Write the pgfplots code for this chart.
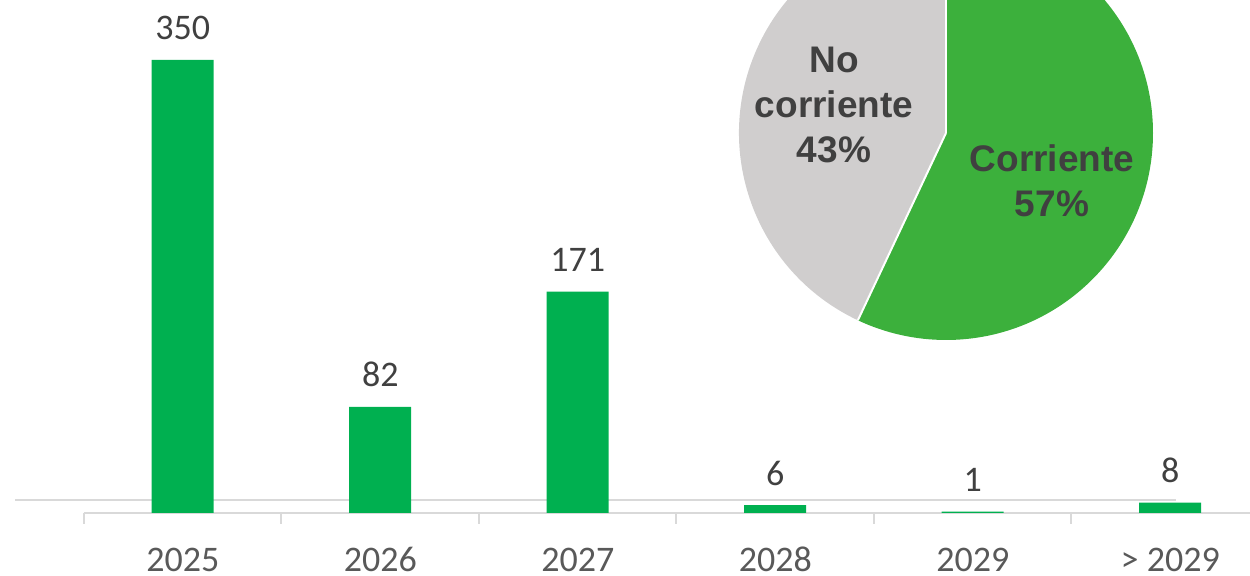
\documentclass[border=0pt]{standalone}
\usepackage{pgfplots}
\pgfplotsset{compat=1.18}
\usepackage{fontspec}
\setmainfont{Carlito}
\newfontfamily\arialfont{Liberation Sans}
\definecolor{barGreen}{HTML}{00B050}
\definecolor{pieGreen}{HTML}{3CB03C}
\definecolor{pieGray}{HTML}{D0CECE}
\definecolor{textDark}{HTML}{404040}
\definecolor{tickGray}{HTML}{595959}
\definecolor{lineGray}{HTML}{D9D9D9}
\begin{document}
\begin{tikzpicture}
\useasboundingbox (0,0) rectangle (625pt,288pt);
\begin{axis}[
  at={(42pt,31.5pt)}, anchor=south west,
  scale only axis, width=592.5pt, height=226.5pt,
  xmin=-0.5, xmax=5.5, ymin=0, ymax=350,
  clip=false,
  /pgf/number format/assume math mode=true,
  axis x line*=bottom, hide y axis,
  axis line style={lineGray, line width=1pt},
  xtick={0,1,2,3,4,5},
  xticklabels={2025,2026,2027,2028,2029,{> 2029}},
  major tick length=0pt,
  minor xtick={-0.5,0.5,1.5,2.5,3.5,4.5},
  minor tick length=5.5pt,
  xtick align=outside,
  every tick/.style={lineGray, line width=1pt},
  xticklabel style={font=\fontsize{18}{18}\selectfont, text=tickGray, anchor=base, yshift=-29.5pt},
  ybar, bar width=31pt,
  nodes near coords,
  every node near coord/.append style={font=\fontsize{18}{18}\selectfont, text=textDark, anchor=base, yshift=10pt},
]
\draw[lineGray, line width=1pt] (axis cs:-0.849,10) -- (axis cs:5.03,10);
\addplot[fill=barGreen, draw=none] coordinates {(0,350) (1,82) (2,171) (3,6) (4,1) (5,8)};
\end{axis}
% pie chart: Corriente 57, No corriente 43
\def\pCorr{57}
\def\pNoCorr{43}
\pgfmathsetmacro\angA{90-3.6*\pCorr}
\pgfmathsetmacro\angB{\angA-3.6*\pNoCorr}
\def\cx{473pt}
\def\cy{221.5pt}
\def\R{103.5pt}
\fill[pieGreen] (\cx,\cy) -- ++(90:\R) arc[start angle=90, end angle=\angA, radius=\R] -- cycle;
\fill[pieGray] (\cx,\cy) -- ++(\angA:\R) arc[start angle=\angA, end angle=\angB, radius=\R] -- cycle;
\draw[white, line width=1pt] (\cx,\cy) -- ++(90:\R);
\draw[white, line width=1pt] (\cx,\cy) -- ++(\angA:\R);
\node[align=center, font=\arialfont\bfseries\fontsize{18.5}{22.5}\selectfont, text=textDark] at (417pt,235.5pt) {No\\corriente\\43\%};
\node[align=center, font=\arialfont\bfseries\fontsize{18.5}{22.5}\selectfont, text=textDark] at (526pt,197.5pt) {Corriente\\57\%};
\end{tikzpicture}
\end{document}
